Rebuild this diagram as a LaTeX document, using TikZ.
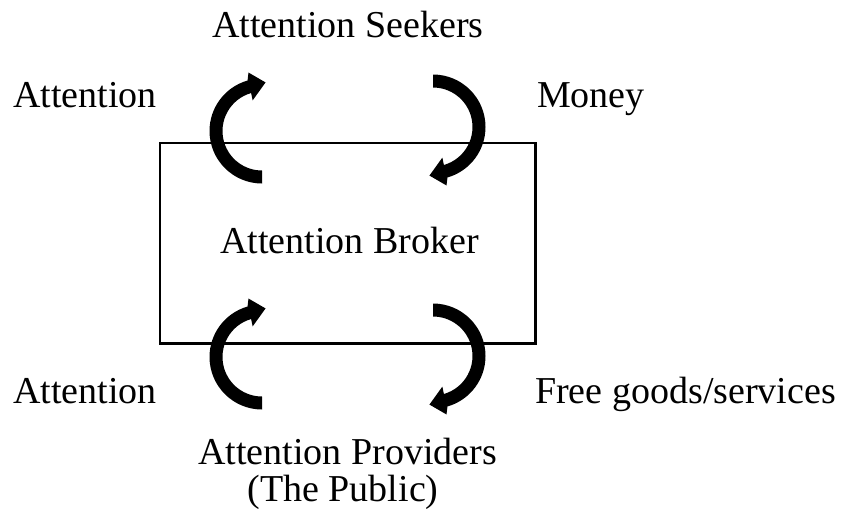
\documentclass[tikz,border=0pt]{standalone}
\usepackage{fontspec}
\setmainfont{Liberation Serif}
\usetikzlibrary{calc}

\tikzset{
  label text/.style={inner sep=0pt, font=\fontsize{38}{38}\selectfont},
  brokerbox/.style={draw, line width=2.4pt, inner sep=0pt,
    minimum width=375.5pt, minimum height=200.5pt},
  % thick curved arrow: tail at the bottom, bends to the left,
  % head at the top pointing right (local frame, y up)
  turnarrow/.pic={
    \begin{scope}[yscale=-1]
      \fill (270:52.5) arc[start angle=270, end angle=106, radius=52.5]
        -- (103:60) -- ($(105:46)+(15:16)$) -- (107:32)
        -- (106:39.5) arc[start angle=106, end angle=270, radius=39.5]
        -- cycle;
    \end{scope}
  }
}

\begin{document}
\begin{tikzpicture}[x=1pt, y=-1pt]
  \useasboundingbox (0,0) rectangle (843,523);

  % the broker in the middle
  \node[brokerbox] (broker) at (347.75,243.25) {};
  \node[label text, anchor=base] (brokerlabel) at (349.5,253) {Attention Broker};

  % the two sides of the market
  \node[label text, anchor=base] (seekers) at (348,37) {Attention Seekers};
  \node[label text, anchor=base] (providers) at (347.5,464) {Attention Providers};
  \node[label text, anchor=base] (public) at (343,501) {(The Public)};

  % what flows in each direction
  \node[label text, anchor=base west] (attTop) at (13,107) {Attention};
  \node[label text, anchor=base west] (money) at (537,107) {Money};
  \node[label text, anchor=base west] (attBottom) at (13,403) {Attention};
  \node[label text, anchor=base west] (goods) at (535,403) {Free goods/services};

  % flow arrows
  \pic at (262,131) {turnarrow};
  \pic[rotate=180] at (433,127) {turnarrow};
  \pic at (262,357) {turnarrow};
  \pic[rotate=180] at (433,356) {turnarrow};
\end{tikzpicture}
\end{document}
